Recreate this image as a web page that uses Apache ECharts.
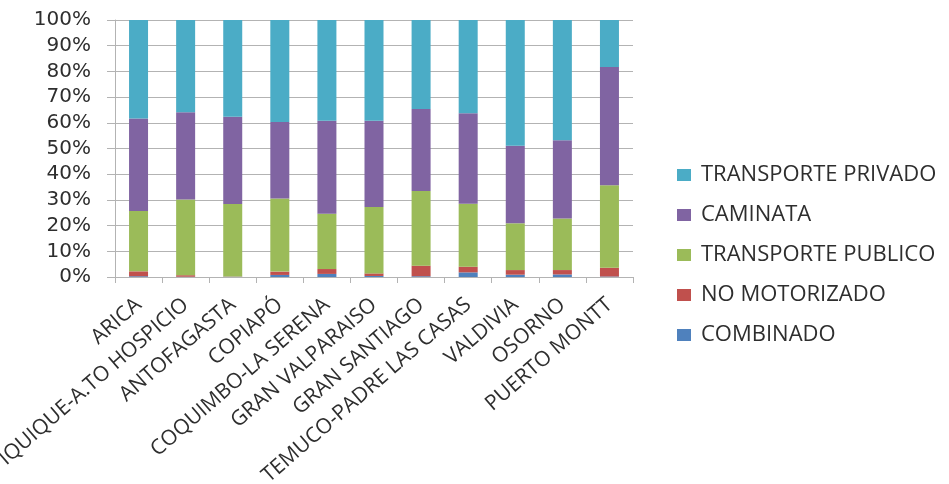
<!DOCTYPE html>
<html>
<head>
<meta charset="utf-8">
<script src="https://cdn.jsdelivr.net/npm/echarts@6/dist/echarts.min.js"></script>
<style>
  html, body { margin: 0; padding: 0; background: #fff; }
  #chart { width: 949px; height: 484px; }
</style>
</head>
<body>
<div id="chart"></div>
<script>
// Reparto modal de viajes por ciudad (%)
const cities = ['ARICA', 'IQUIQUE-A.TO HOSPICIO', 'ANTOFAGASTA', 'COPIAPÓ', 'COQUIMBO-LA SERENA',
  'GRAN VALPARAISO', 'GRAN SANTIAGO', 'TEMUCO-PADRE LAS CASAS', 'VALDIVIA', 'OSORNO', 'PUERTO MONTT'];
const combinado        = [0.3, 0.1, 0.1, 0.8, 1.2, 0.4, 0.3, 1.8, 0.9, 1.0, 0.2];
const noMotorizado     = [1.9, 0.6, 0.1, 1.3, 1.9, 1.0, 4.1, 2.2, 1.8, 1.7, 3.4];
const transportePublico= [23.5, 29.5, 28.2, 28.4, 21.5, 25.8, 29.1, 24.5, 18.2, 20.1, 32.1];
const caminata         = [36.0, 33.9, 34.0, 29.8, 36.2, 33.6, 31.9, 35.2, 30.2, 30.4, 46.0];
const transportePrivado= [38.3, 35.9, 37.6, 39.7, 39.2, 39.2, 34.6, 36.3, 48.9, 46.8, 18.3];
const yTicks = [0, 10, 20, 30, 40, 50, 60, 70, 80, 90, 100];

const seriesDefs = [
  { name: 'COMBINADO', data: combinado, color: '#4F81BD' },
  { name: 'NO MOTORIZADO', data: noMotorizado, color: '#C0504D' },
  { name: 'TRANSPORTE PUBLICO', data: transportePublico, color: '#9BBB59' },
  { name: 'CAMINATA', data: caminata, color: '#8064A2' },
  { name: 'TRANSPORTE PRIVADO', data: transportePrivado, color: '#4BACC6' }
];

const textColor = '#2e2e2e';
const gridColor = '#b3b3b3';

const chart = echarts.init(document.getElementById('chart'));
chart.setOption({
  animation: false,
  textStyle: { fontFamily: 'Open Sans' },
  grid: { left: 115, right: 316, top: 20, bottom: 207, containLabel: false, outerBoundsMode: 'none' },
  legend: {
    orient: 'vertical',
    left: 672,
    top: 159,
    itemWidth: 14,
    itemHeight: 12,
    itemGap: 18,
    icon: 'rect',
    data: seriesDefs.map(s => s.name).reverse(),
    textStyle: { color: textColor, fontSize: 22, fontFamily: 'Open Sans', padding: [0, 0, 0, 5] }
  },
  xAxis: {
    type: 'category',
    data: cities,
    axisLine: { lineStyle: { color: gridColor, width: 1 } },
    axisTick: { show: true, alignWithLabel: false, length: 6, lineStyle: { color: gridColor } },
    axisLabel: {
      interval: 0,
      rotate: 41,
      color: textColor,
      fontSize: 21,
      fontFamily: 'Open Sans',
      margin: 25
    }
  },
  yAxis: {
    type: 'value',
    min: 0,
    max: 100,
    interval: 10,
    axisLine: { show: true, lineStyle: { color: gridColor } },
    axisTick: { show: true, inside: false, length: 8, lineStyle: { color: gridColor } },
    splitLine: { lineStyle: { color: gridColor, width: 1 } },
    axisLabel: {
      color: textColor,
      fontSize: 20,
      fontFamily: 'DejaVu Sans',
      margin: 24,
      formatter: v => (yTicks.indexOf(v) >= 0 ? v + '%' : '')
    }
  },
  series: seriesDefs.map(s => ({
    name: s.name,
    type: 'bar',
    stack: 'total',
    barWidth: 19,
    data: s.data,
    itemStyle: { color: s.color }
  }))
});
</script>
</body>
</html>
